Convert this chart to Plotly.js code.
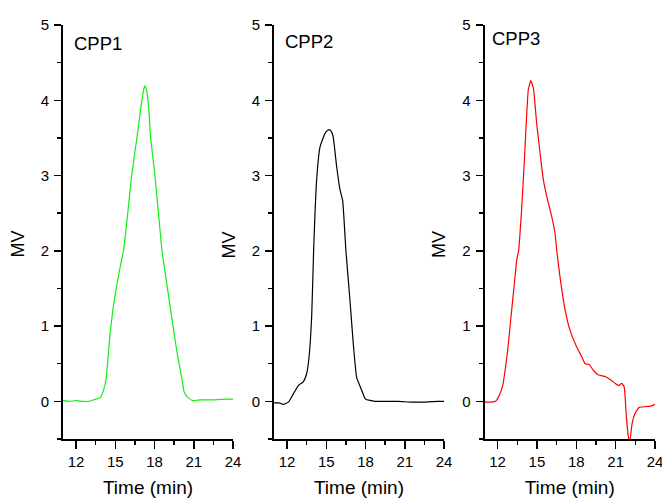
<!DOCTYPE html>
<html>
<head>
<meta charset="utf-8">
<script src="https://cdn.plot.ly/plotly-3.0.1.min.js"></script>
<style>html,body{margin:0;padding:0;background:#fff;}#chart{width:662px;height:500px;}</style>
</head>
<body>
<div id="chart"></div>
<script>
// CPP1 (green)
const cpp1Time = [11.0, 11.5, 12.0, 12.5, 13.0, 13.5, 13.85, 14.1, 14.3, 14.45, 14.6, 14.8, 15.0, 15.3, 15.64, 15.95, 16.25, 16.65, 16.95, 17.15, 17.27, 17.4, 17.55, 17.7, 18.03, 18.3, 18.57, 18.93, 19.31, 19.69, 20.07, 20.27, 20.5, 20.9, 21.5, 22.5, 23.5, 24.0];
const cpp1MV   = [0.01, 0.0, 0.01, 0.0, 0.0, 0.03, 0.05, 0.15, 0.3, 0.6, 0.9, 1.2, 1.43, 1.72, 2.02, 2.5, 3.0, 3.5, 3.9, 4.13, 4.19, 4.12, 3.9, 3.5, 3.0, 2.5, 2.0, 1.57, 1.12, 0.68, 0.32, 0.12, 0.06, 0.01, 0.02, 0.02, 0.03, 0.03];
// CPP2 (black)
const cpp2Time = [11.0, 11.4, 11.7, 12.1, 12.48, 12.86, 13.24, 13.5, 13.68, 13.88, 14.03, 14.26, 14.52, 14.9, 15.1, 15.23, 15.4, 15.53, 15.79, 16.05, 16.25, 16.5, 16.81, 17.06, 17.32, 17.7, 18.0, 18.7, 19.5, 20.5, 21.5, 22.5, 23.5, 24.0];
const cpp2MV   = [-0.02, -0.02, -0.04, -0.01, 0.1, 0.21, 0.26, 0.37, 0.59, 1.12, 2.0, 2.94, 3.38, 3.56, 3.6, 3.61, 3.58, 3.51, 3.12, 2.81, 2.67, 2.0, 1.34, 0.77, 0.32, 0.15, 0.03, 0.0, 0.0, 0.0, -0.01, -0.01, 0.0, 0.0];
// CPP3 (red)
const cpp3Time = [11.0, 11.5, 11.85, 12.18, 12.4, 12.6, 12.77, 13.02, 13.28, 13.46, 13.6, 13.84, 14.04, 14.17, 14.34, 14.53, 14.73, 14.98, 15.24, 15.49, 15.82, 16.13, 16.38, 16.51, 16.76, 17.15, 17.53, 18.04, 18.42, 18.67, 18.98, 19.31, 19.69, 20.2, 20.58, 20.96, 21.21, 21.47, 21.65, 21.8, 21.95, 22.07, 22.25, 22.5, 22.8, 23.25, 23.75, 24.0];
const cpp3MV   = [-0.01, -0.01, 0.0, 0.1, 0.22, 0.45, 0.68, 1.12, 1.57, 1.88, 2.0, 2.58, 3.2, 3.65, 4.14, 4.26, 4.16, 3.69, 3.29, 2.94, 2.67, 2.45, 2.23, 2.0, 1.65, 1.21, 0.94, 0.72, 0.59, 0.5, 0.49, 0.41, 0.35, 0.33, 0.29, 0.24, 0.21, 0.24, 0.19, -0.16, -0.45, -0.55, -0.3, -0.15, -0.08, -0.07, -0.06, -0.04];

const panelNames = ['CPP1', 'CPP2', 'CPP3'];
const xTickVals = [12, 15, 18, 21, 24];
const xMinorVals = [13.5, 16.5, 19.5, 22.5];
const yTickVals = [0, 1, 2, 3, 4, 5];
const yMinorVals = [-0.5, 0.5, 1.5, 2.5, 3.5, 4.5];
const xTitle = 'Time (min)';
const yTitle = 'MV';

const FONT = 'Liberation Sans, Arial, sans-serif';
const lineStyle = {width: 1.2, shape: 'spline', smoothing: 0.4};

const traces = [
  {x: cpp1Time, y: cpp1MV, xaxis: 'x', yaxis: 'y', line: Object.assign({color: '#11f011'}, lineStyle)},
  {x: cpp2Time, y: cpp2MV, xaxis: 'x2', yaxis: 'y2', line: Object.assign({color: '#000000'}, lineStyle)},
  {x: cpp3Time, y: cpp3MV, xaxis: 'x3', yaxis: 'y3', line: Object.assign({color: '#ff0000'}, lineStyle)}
].map(t => Object.assign(t, {type: 'scatter', mode: 'lines', showlegend: false, hoverinfo: 'x+y'}));

function xAxis(domain, anchor) {
  return {
    domain: domain, anchor: anchor, range: [11, 24],
    showline: true, linewidth: 2, linecolor: '#000', mirror: false,
    showgrid: false, zeroline: false,
    ticks: 'outside', ticklen: 8, tickwidth: 1.5, tickcolor: '#000',
    tickmode: 'array', tickvals: xTickVals, ticktext: xTickVals.map(String),
    minor: {tickmode: 'array', tickvals: xMinorVals, ticks: 'outside', ticklen: 4, tickwidth: 1.5, tickcolor: '#000'},
    tickfont: {family: FONT, size: 15, color: '#000'},
    ticklabeloverflow: 'allow',
    title: {text: xTitle, font: {family: FONT, size: 19, color: '#000'}, standoff: 12},
    fixedrange: true
  };
}
function yAxis(anchor) {
  return {
    domain: [0, 1], anchor: anchor, range: [-0.5, 5],
    showline: true, linewidth: 2, linecolor: '#000',
    showgrid: false, zeroline: false,
    ticks: 'outside', ticklen: 7, tickwidth: 1.5, tickcolor: '#000',
    tickmode: 'array', tickvals: yTickVals, ticktext: yTickVals.map(String),
    minor: {tickmode: 'array', tickvals: yMinorVals, ticks: 'outside', ticklen: 4, tickwidth: 1.5, tickcolor: '#000'},
    tickfont: {family: FONT, size: 15, color: '#000'},
    ticklabelstandoff: 2,
    fixedrange: true
  };
}

const domains = [[0, 0.2872], [0.3564, 0.6436], [0.712, 1]];
const labelOffsets = [{dx: 0.053, dy: 0.955}, {dx: 0.055, dy: 0.96}, {dx: 0.03, dy: 0.967}];

const annotations = [];
panelNames.forEach((name, i) => {
  const sfx = i === 0 ? '' : String(i + 1);
  annotations.push({
    text: name, xref: 'x' + sfx + ' domain', yref: 'y' + sfx + ' domain',
    x: labelOffsets[i].dx, y: labelOffsets[i].dy, xanchor: 'left', yanchor: 'middle',
    showarrow: false, font: {family: FONT, size: 18.5, color: '#000'}
  });
  annotations.push({
    text: yTitle, xref: 'paper', yref: 'paper',
    x: domains[i][0], xshift: -45, y: 0.47, xanchor: 'center', yanchor: 'middle',
    textangle: -90, showarrow: false, font: {family: FONT, size: 18, color: '#000'}
  });
});

const layout = {
  width: 662, height: 500,
  margin: {l: 63, r: 7, t: 25, b: 61},
  paper_bgcolor: '#fff', plot_bgcolor: '#fff',
  font: {family: FONT, color: '#000'},
  xaxis: xAxis(domains[0], 'y'),
  xaxis2: xAxis(domains[1], 'y2'),
  xaxis3: xAxis(domains[2], 'y3'),
  yaxis: yAxis('x'),
  yaxis2: yAxis('x2'),
  yaxis3: yAxis('x3'),
  annotations: annotations,
  showlegend: false
};

Plotly.newPlot('chart', traces, layout, {displayModeBar: false, staticPlot: true});
</script>
</body>
</html>
